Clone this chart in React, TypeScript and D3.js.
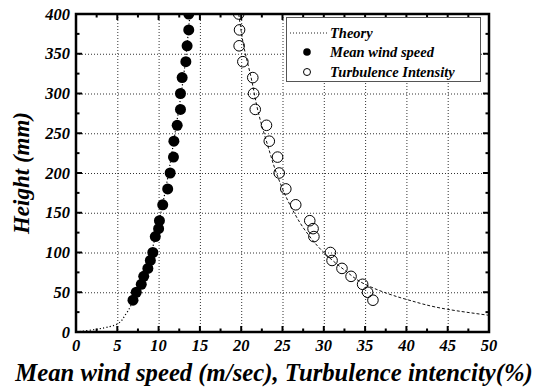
import { useEffect, useRef } from 'react';
import * as d3 from 'd3';

const meanSpeed = [6.9, 7.3, 7.9, 8.2, 8.7, 9.0, 9.3, 9.6, 10.0, 10.1, 10.5, 11.1, 11.4, 11.8, 11.85, 12.25, 12.65, 12.65, 12.85, 13.3, 13.45, 13.65, 13.65];
const meanHeight = [40, 50, 60, 70, 80, 90, 100, 120, 130, 140, 160, 180, 200, 220, 240, 260, 280, 300, 320, 340, 360, 380, 400];

const turbIntensity = [35.95, 35.3, 34.7, 33.3, 32.2, 31.0, 30.8, 28.8, 28.7, 28.3, 26.6, 25.4, 24.6, 24.4, 23.4, 23.06, 21.7, 21.5, 21.4, 20.2, 19.75, 19.8, 19.7];
const turbHeight = [40, 50, 60, 70, 80, 90, 100, 120, 130, 140, 160, 180, 200, 220, 240, 260, 280, 300, 320, 340, 360, 380, 400];

// theory curves
const theoryMeanX = [0, 2.5, 5, 6, 7, 8, 9, 10, 11, 12, 13, 13.8];
const theoryMeanY = [0, 3.5, 10, 22, 41, 65, 96, 137, 188, 251, 320, 400];
const theoryTurbX = [19.7, 20.3, 21.2, 22.1, 23.2, 24.4, 25.9, 27.8, 30, 32.5, 35, 40, 45, 50];
const theoryTurbY = [400, 360, 320, 275, 235, 196, 160, 127, 100, 78, 60, 41, 28.5, 21];

const xTicks = [0, 5, 10, 15, 20, 25, 30, 35, 40, 45, 50];
const yTicks = [0, 50, 100, 150, 200, 250, 300, 350, 400];

const legendLabels = ['Theory', 'Mean wind speed', 'Turbulence Intensity'];

export default function App() {
    const svgRef = useRef<SVGSVGElement>(null);

    useEffect(() => {
        if (!svgRef.current) return;
        const svg = d3.select(svgRef.current);
        svg.selectAll('*').remove();

        const left = 76, right = 489, top = 14, bottom = 332;
        const x = d3.scaleLinear().domain([0, 50]).range([left, right]);
        const y = d3.scaleLinear().domain([0, 400]).range([bottom, top]);
        const font = 'Liberation Serif';

        svg.append('rect').attr('width', 549).attr('height', 390).attr('fill', '#fff');

        svg.append('clipPath').attr('id', 'plot-clip')
            .append('rect')
            .attr('x', left).attr('y', top)
            .attr('width', right - left).attr('height', bottom - top);

        // grid
        const grid = svg.append('g')
            .attr('stroke', '#333')
            .attr('stroke-width', 1)
            .attr('stroke-dasharray', '1,2');
        xTicks.slice(1, -1).forEach(t => {
            grid.append('line')
                .attr('x1', x(t) + 0.5).attr('x2', x(t) + 0.5)
                .attr('y1', top).attr('y2', bottom);
        });
        yTicks.slice(1, -1).forEach(t => {
            grid.append('line')
                .attr('x1', left).attr('x2', right)
                .attr('y1', y(t) + 0.5).attr('y2', y(t) + 0.5);
        });

        // theory curves
        const plot = svg.append('g').attr('clip-path', 'url(#plot-clip)');
        const line = d3.line<number>().curve(d3.curveMonotoneY);

        plot.append('path')
            .attr('d', line
                .x(i => x(theoryMeanX[i]))
                .y(i => y(theoryMeanY[i]))(d3.range(theoryMeanX.length)))
            .attr('fill', 'none')
            .attr('stroke', '#000')
            .attr('stroke-width', 1.2)
            .attr('stroke-dasharray', '1.2,2.2');

        plot.append('path')
            .attr('d', line
                .x(i => x(theoryTurbX[i]))
                .y(i => y(theoryTurbY[i]))(d3.range(theoryTurbX.length)))
            .attr('fill', 'none')
            .attr('stroke', '#111')
            .attr('stroke-width', 1)
            .attr('stroke-dasharray', '3,2');

        // measured points
        plot.selectAll('circle.mean')
            .data(d3.range(meanSpeed.length))
            .enter()
            .append('circle')
            .attr('cx', i => x(meanSpeed[i]))
            .attr('cy', i => y(meanHeight[i]))
            .attr('r', 5.5)
            .attr('fill', '#000');

        plot.selectAll('circle.turb')
            .data(d3.range(turbIntensity.length))
            .enter()
            .append('circle')
            .attr('cx', i => x(turbIntensity[i]))
            .attr('cy', i => y(turbHeight[i]))
            .attr('r', 5.3)
            .attr('fill', 'none')
            .attr('stroke', '#000')
            .attr('stroke-width', 1);

        // ticks (all inward, on every side)
        const ticks = svg.append('g').attr('stroke', '#000').attr('stroke-width', 2);
        const xMinor = d3.range(0, 50.01, 2.5);
        const yMinor = d3.range(0, 400.01, 25);
        xMinor.forEach((t, k) => {
            const len = k % 2 === 0 ? 6 : 3.5;
            ticks.append('line').attr('x1', x(t)).attr('x2', x(t)).attr('y1', bottom).attr('y2', bottom - len);
            ticks.append('line').attr('x1', x(t)).attr('x2', x(t)).attr('y1', top).attr('y2', top + len);
        });
        yMinor.forEach((t, k) => {
            const len = k % 2 === 0 ? 6 : 3.5;
            ticks.append('line').attr('x1', left).attr('x2', left + len).attr('y1', y(t)).attr('y2', y(t));
            ticks.append('line').attr('x1', right).attr('x2', right - len).attr('y1', y(t)).attr('y2', y(t));
        });

        // frame
        svg.append('rect')
            .attr('x', left).attr('y', top)
            .attr('width', right - left).attr('height', bottom - top)
            .attr('fill', 'none')
            .attr('stroke', '#000')
            .attr('stroke-width', 2.5);

        const styled = (sel: any, size: number) => sel
            .style('font-family', font)
            .style('font-weight', 'bold')
            .style('font-style', 'italic')
            .style('font-size', `${size}px`);

        // tick labels
        styled(svg.append('g')
            .selectAll('text')
            .data(xTicks)
            .enter()
            .append('text')
            .attr('x', d => x(d))
            .attr('y', 351)
            .attr('text-anchor', 'middle'), 16.5)
            .text(d => d);

        styled(svg.append('g')
            .selectAll('text')
            .data(yTicks)
            .enter()
            .append('text')
            .attr('x', 70)
            .attr('y', d => y(d) + 5.5)
            .attr('text-anchor', 'end'), 16.5)
            .text(d => d);

        // axis titles
        styled(svg.append('text')
            .attr('transform', `translate(29, ${(top + bottom) / 2}) rotate(-90)`)
            .attr('text-anchor', 'middle'), 23)
            .text('Height (mm)');

        styled(svg.append('text')
            .attr('x', 274)
            .attr('y', 381)
            .attr('text-anchor', 'middle'), 24.7)
            .text('Mean wind speed (m/sec), Turbulence intencity(%)');

        // legend
        const lg = svg.append('g');
        lg.append('rect')
            .attr('x', 286.5).attr('y', 17.5)
            .attr('width', 194).attr('height', 64)
            .attr('fill', '#fff')
            .attr('stroke', '#555')
            .attr('stroke-width', 1);
        const rowY = [33, 52, 72];
        lg.append('line')
            .attr('x1', 290).attr('x2', 327)
            .attr('y1', rowY[0]).attr('y2', rowY[0])
            .attr('stroke', '#222')
            .attr('stroke-dasharray', '1,2');
        lg.append('circle').attr('cx', 307).attr('cy', rowY[1]).attr('r', 3.8).attr('fill', '#000');
        lg.append('circle').attr('cx', 307).attr('cy', rowY[2]).attr('r', 3.5)
            .attr('fill', 'none').attr('stroke', '#000').attr('stroke-width', 1);
        styled(lg.selectAll('text.lbl')
            .data(legendLabels)
            .enter()
            .append('text')
            .attr('x', 330)
            .attr('y', (_, i) => rowY[i] + 5), 14.5)
            .text(d => d);
    }, []);

    return (
        <svg ref={svgRef} width={549} height={390}
            style={{ position: 'absolute', left: 0, top: 0, display: 'block' }} />
    );
}
